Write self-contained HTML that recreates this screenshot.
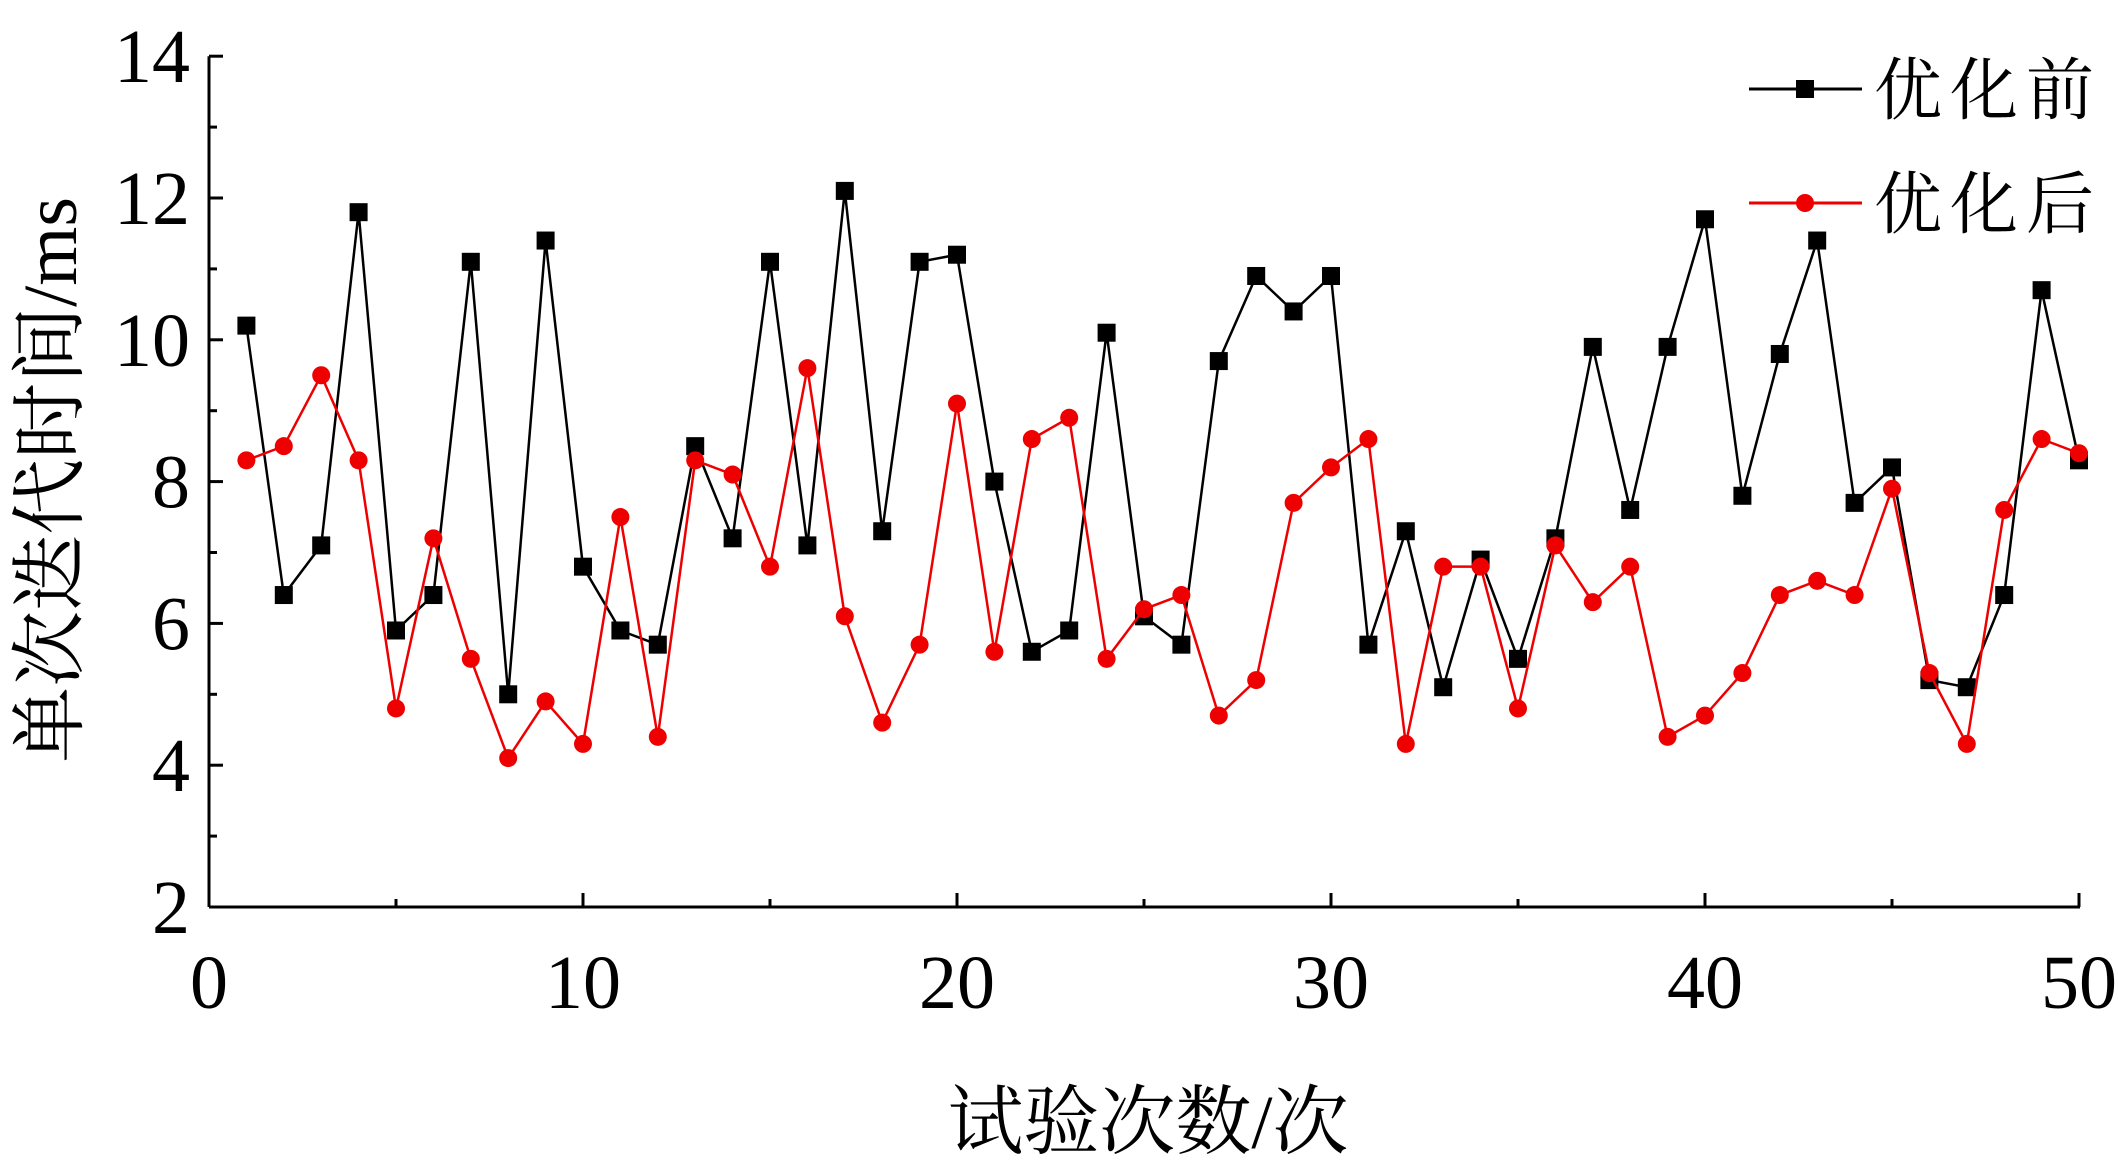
<!DOCTYPE html>
<html><head><meta charset="utf-8"><style>
html,body{margin:0;padding:0;background:#fff;}
svg{display:block;}
</style></head><body>
<svg width="2118" height="1175" viewBox="0 0 2118 1175" xmlns="http://www.w3.org/2000/svg">
<g id="axes" stroke="#000" stroke-width="3" fill="none"></g>
<g id="lines"></g>
<g font-family="'Liberation Serif', serif" font-size="76" fill="#000" id="labels"></g>
<text x="1148" y="1148" font-family="'Liberation Serif','Noto Serif CJK SC',serif" font-size="76" text-anchor="middle">试验次数/次</text>
<text transform="translate(76,480) rotate(-90)" font-family="'Liberation Serif','Noto Serif CJK SC',serif" font-size="76" text-anchor="middle">单次迭代时间/ms</text>
<line x1="1749" y1="89" x2="1862" y2="89" stroke="#000" stroke-width="3"/>
<rect x="1796" y="80" width="18" height="18" fill="#000"/>
<text x="1874" y="114" font-family="'Liberation Serif','Noto Serif CJK SC',serif" font-size="68" letter-spacing="8">优化前</text>
<line x1="1749" y1="203" x2="1862" y2="203" stroke="#e00" stroke-width="3"/>
<circle cx="1805" cy="203" r="9" fill="#e00"/>
<text x="1874" y="228" font-family="'Liberation Serif','Noto Serif CJK SC',serif" font-size="68" letter-spacing="8">优化后</text>
<script>
var X0=209,XS=37.4,Y2=907,YS=70.9;
function px(i){return X0+XS*i;} function py(v){return Y2-(v-2)*YS;}
var ns="http://www.w3.org/2000/svg";
function el(t,a,p){var e=document.createElementNS(ns,t);for(var k in a)e.setAttribute(k,a[k]);document.getElementById(p).appendChild(e);return e;}
var ax="axes";
el("line",{x1:X0,y1:Y2,x2:px(50)+1,y2:Y2},ax);
el("line",{x1:X0,y1:Y2,x2:X0,y2:py(14)},ax);
for(var v=2;v<=14;v++){var L=(v%2==0)?14:8;el("line",{x1:X0,y1:py(v),x2:X0+L,y2:py(v)},ax);
 if(v%2==0){var t=el("text",{x:190,y:py(v)+26,"text-anchor":"end"},"labels");t.textContent=v;}}
for(var i=0;i<=50;i+=5){var L=(i%10==0)?14:8;el("line",{x1:px(i),y1:Y2,x2:px(i),y2:Y2-L},ax);
 if(i%10==0){var t=el("text",{x:px(i),y:1008,"text-anchor":"middle"},"labels");t.textContent=i;}}
var B=[10.2,6.4,7.1,11.8,5.9,6.4,11.1,5.0,11.4,6.8,5.9,5.7,8.5,7.2,11.1,7.1,12.1,7.3,11.1,11.2,8.0,5.6,5.9,10.1,6.1,5.7,9.7,10.9,10.4,10.9,5.7,7.3,5.1,6.9,5.5,7.2,9.9,7.6,9.9,11.7,7.8,9.8,11.4,7.7,8.2,5.2,5.1,6.4,10.7,8.3];
var R=[8.3,8.5,9.5,8.3,4.8,7.2,5.5,4.1,4.9,4.3,7.5,4.4,8.3,8.1,6.8,9.6,6.1,4.6,5.7,9.1,5.6,8.6,8.9,5.5,6.2,6.4,4.7,5.2,7.7,8.2,8.6,4.3,6.8,6.8,4.8,7.1,6.3,6.8,4.4,4.7,5.3,6.4,6.6,6.4,7.9,5.3,4.3,7.6,8.6,8.4];
function pts(a){return a.map(function(v,i){return px(i+1)+","+py(v);}).join(" ");}
el("polyline",{points:pts(B),fill:"none",stroke:"#000","stroke-width":2.5},"lines");
B.forEach(function(v,i){el("rect",{x:px(i+1)-9,y:py(v)-9,width:18,height:18,fill:"#000"},"lines");});
el("polyline",{points:pts(R),fill:"none",stroke:"#e00","stroke-width":2.5},"lines");
R.forEach(function(v,i){el("circle",{cx:px(i+1),cy:py(v),r:9,fill:"#e00"},"lines");});
</script>
</svg>
</body></html>
